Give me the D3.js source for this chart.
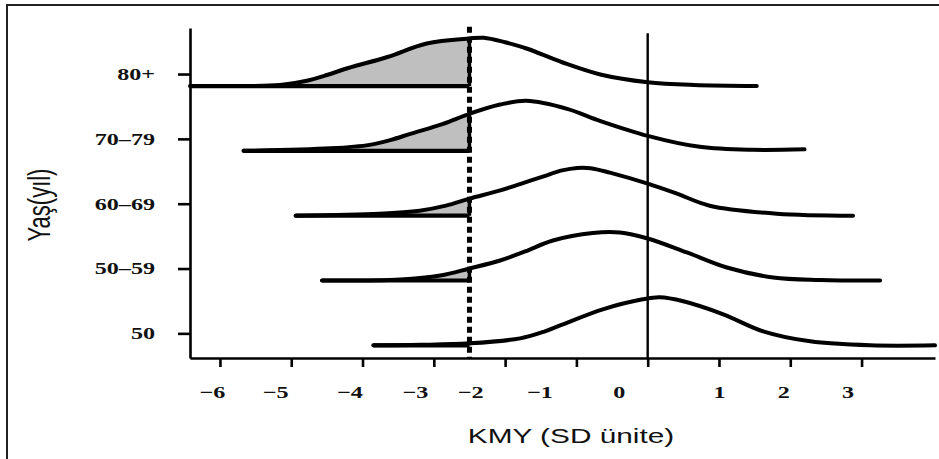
<!DOCTYPE html>
<html>
<head>
<meta charset="utf-8">
<script src="https://cdn.jsdelivr.net/npm/d3@7"></script>
<style>
  body { margin: 0; background: #fff; }
  svg { display: block; }
</style>
</head>
<body>
<svg id="chart" width="939" height="459"></svg>
<script>
// Age groups, bottom row first
const ageGroups = ["50", "50–59", "60–69", "70–79", "80+"];
const xTicks = [-6, -5, -4, -3, -2, -1, 0, 1, 2, 3];
const osteoCut = -2.5;   // dashed threshold (T-score)
const refLine = 0;       // solid reference line

// Density of BMD (SD units) per age group
const kmy50 = [-3.85, -3.19, -2.5, -1.79, -1.45, -1.19, -0.63, -0.07, 0.17, 0.5, 1.06, 1.62, 2.28, 3.12, 4.03];
const dens50 = [0, 0.004, 0.016, 0.056, 0.11, 0.168, 0.288, 0.368, 0.384, 0.352, 0.248, 0.112, 0.032, 0, 0];

const kmy5059 = [-4.57, -3.47, -2.91, -2.5, -2.07, -1.72, -1.33, -0.77, -0.39, 0, 0.55, 1.11, 1.76, 2.42, 3.26];
const dens5059 = [0, 0.008, 0.04, 0.096, 0.16, 0.232, 0.32, 0.38, 0.384, 0.336, 0.224, 0.104, 0.024, 0.004, 0];

const kmy6069 = [-4.94, -3.76, -3.2, -2.83, -2.5, -2.08, -1.78, -1.46, -1.2, -0.99, -0.8, -0.53, 0, 0.41, 0.87, 1.81, 2.88];
const dens6069 = [0, 0.016, 0.04, 0.08, 0.136, 0.2, 0.255, 0.315, 0.362, 0.382, 0.38, 0.344, 0.256, 0.176, 0.08, 0.016, 0];

const kmy7079 = [-5.67, -4.45, -3.9, -3.6, -3.33, -2.87, -2.5, -2.07, -1.7, -1.13, -0.67, 0, 0.73, 1.47, 2.2];
const dens7079 = [0, 0.02, 0.048, 0.088, 0.136, 0.216, 0.296, 0.37, 0.4, 0.336, 0.24, 0.12, 0.032, 0.008, 0.012];

const kmy80 = [-6.42, -5.4, -5.1, -4.8, -4.5, -4.2, -3.65, -3.1, -2.5, -2.3, -2.0, -1.7, -1.2, -0.65, 0, 0.65, 1.53];
const dens80 = [0, 0.002, 0.012, 0.04, 0.088, 0.144, 0.232, 0.34, 0.38, 0.386, 0.35, 0.30, 0.19, 0.09, 0.03, 0.008, 0];

const ridges = [
  { kmy: kmy50, dens: dens50 },
  { kmy: kmy5059, dens: dens5059 },
  { kmy: kmy6069, dens: dens6069 },
  { kmy: kmy7079, dens: dens7079 },
  { kmy: kmy80, dens: dens80 }
].map((r, i) => ({ row: i, pts: r.kmy.map((k, j) => ({ k, d: r.dens[j] })) }));

const svg = d3.select("#chart");
const stretch = 1.42;                 // horizontal glyph stretch
const serif = "'Liberation Serif', 'Times New Roman', serif";
const sans = "'Liberation Sans', Arial, sans-serif";

const x = d3.scaleLinear().domain([-6.42, 4.03]).range([190, 935]);
const y = d3.scaleLinear().domain([-0.38, 4.71]).range([358, 28]);
const ridgeDrop = 0.185;              // baseline sits a bit below the row tick
const rowsPerDensity = 1.93;          // density -> row units

const baseY = row => y(row - ridgeDrop);
const densY = (row, d) => y(row - ridgeDrop + d * rowsPerDensity);

// outer frame
svg.append("rect")
  .attr("x", 7).attr("y", 5).attr("width", 960).attr("height", 480)
  .attr("fill", "none").attr("stroke", "#222").attr("stroke-width", 2);

// clip for the shaded tail left of the threshold
svg.append("clipPath").attr("id", "tail")
  .append("rect")
  .attr("x", 0).attr("y", 0)
  .attr("width", x(osteoCut)).attr("height", 459);

// axes
const xAxis = svg.append("g")
  .attr("transform", `translate(0,${y.range()[0]})`)
  .call(d3.axisBottom(x).tickValues(xTicks).tickSize(9).tickSizeOuter(0));
const labelNudge = [-8, -16, -13, -19, -35, -37, -29, 0, -7, -14];
xAxis.selectAll(".tick text")
  .attr("y", 40).attr("dy", 0)
  .attr("x", (d, i) => labelNudge[i] / stretch)
  .attr("transform", `scale(${stretch},1)`)
  .attr("font-family", serif).attr("font-weight", "bold").attr("font-size", 17)
  .attr("fill", "#111");

const yAxis = svg.append("g")
  .attr("transform", `translate(${x.range()[0]},0)`)
  .call(d3.axisLeft(y).tickValues(d3.range(ageGroups.length))
    .tickFormat(i => ageGroups[i]).tickSize(12).tickSizeOuter(0));
yAxis.selectAll(".tick text")
  .attr("x", -35 / stretch).attr("dy", "0.32em")
  .attr("transform", `scale(${stretch},1)`)
  .attr("font-family", serif).attr("font-weight", "bold").attr("font-size", 17)
  .attr("fill", "#111");

[xAxis, yAxis].forEach(a => {
  a.select(".domain").attr("stroke", "#000").attr("stroke-width", 2.6);
  a.selectAll(".tick line").attr("stroke", "#000").attr("stroke-width", 2.6);
});

// ridges
const curve = d3.curveCatmullRom.alpha(0.5);
ridges.forEach(r => {
  const g = svg.append("g");
  const area = d3.area().curve(curve)
    .x(p => x(p.k)).y0(baseY(r.row)).y1(p => densY(r.row, p.d));
  g.append("path").datum(r.pts)
    .attr("d", area)
    .attr("clip-path", "url(#tail)")
    .attr("fill", "#bfbfbf");

  const cutPt = r.pts.find(p => p.k === osteoCut);
  g.append("line")
    .attr("x1", x(r.pts[0].k)).attr("x2", x(osteoCut))
    .attr("y1", baseY(r.row)).attr("y2", baseY(r.row))
    .attr("stroke", "#000").attr("stroke-width", 4.2);
  g.append("line")
    .attr("x1", x(osteoCut)).attr("x2", x(osteoCut))
    .attr("y1", baseY(r.row)).attr("y2", densY(r.row, cutPt.d))
    .attr("stroke", "#000").attr("stroke-width", 3.5);

  const line = d3.line().curve(curve)
    .x(p => x(p.k)).y(p => densY(r.row, p.d));
  g.append("path").datum(r.pts)
    .attr("d", line)
    .attr("fill", "none").attr("stroke", "#000")
    .attr("stroke-width", 4).attr("stroke-linecap", "round").attr("stroke-linejoin", "round");
});

// reference lines
svg.append("line")
  .attr("x1", x(refLine)).attr("x2", x(refLine))
  .attr("y1", y(4.63)).attr("y2", y.range()[0])
  .attr("stroke", "#000").attr("stroke-width", 2.4);
svg.append("line")
  .attr("x1", x(osteoCut)).attr("x2", x(osteoCut))
  .attr("y1", y(4.73)).attr("y2", y.range()[0])
  .attr("stroke", "#000").attr("stroke-width", 5).attr("stroke-dasharray", "6 4");

// titles
svg.append("text")
  .attr("transform", `translate(571,443) scale(${stretch},1)`)
  .attr("text-anchor", "middle")
  .attr("font-family", sans).attr("font-size", 21).attr("fill", "#111")
  .text("KMY (SD ünite)");
svg.append("text")
  .attr("transform", `translate(39,205) scale(${stretch},1) rotate(-90)`)
  .attr("text-anchor", "middle").attr("dy", "0.35em")
  .attr("font-family", sans).attr("font-size", 22).attr("fill", "#111")
  .text("Yaş(yıl)");
</script>
</body>
</html>
